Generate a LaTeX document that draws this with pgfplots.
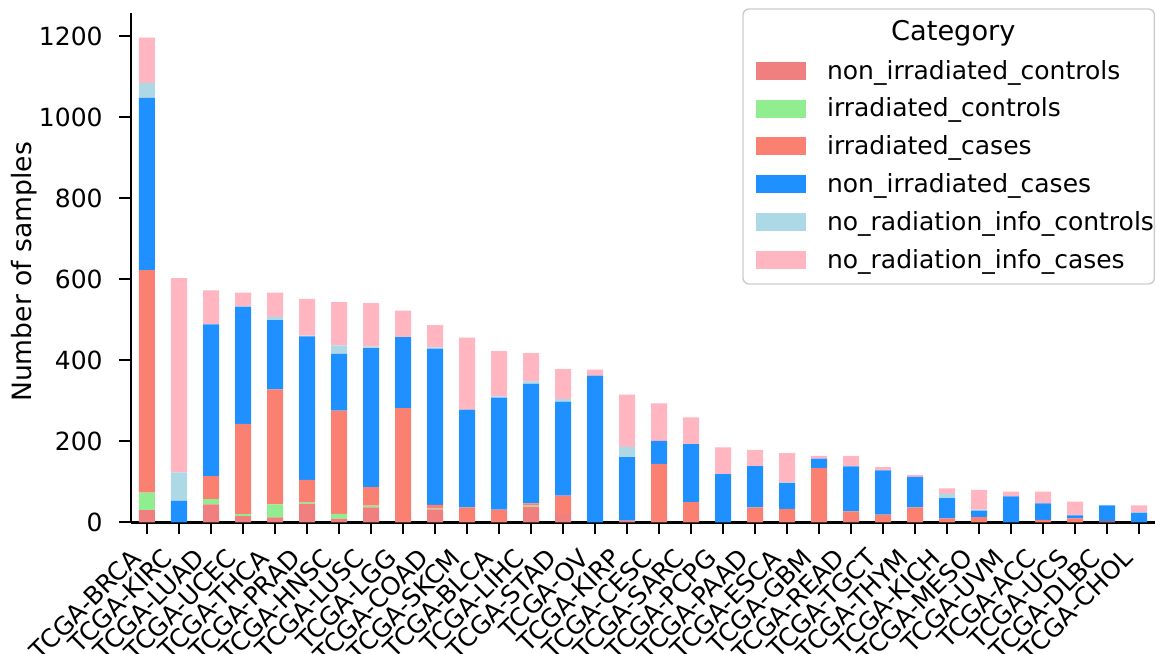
\documentclass[border=0pt]{standalone}
\usepackage{pgfplots}
\pgfplotsset{compat=1.18}
\usepackage{pgfplotstable}
\usepackage{fontspec}
\setmainfont{DejaVu Sans}
\usetikzlibrary{calc}

\definecolor{nic}{HTML}{F08080}
\definecolor{ic}{HTML}{90EE90}
\definecolor{irc}{HTML}{FA8072}
\definecolor{nirc}{HTML}{1E90FF}
\definecolor{nric}{HTML}{ADD8E6}
\definecolor{nrc}{HTML}{FFB6C1}

% samples per project, stacked bottom to top
\pgfplotstableread{
x  nic ic  irc nirc nric nrc
0  30  43  550 425  37   112
1  0   0   0   53   70   480
2  44  13  57  375  0    84
3  15  5   223 289  2    33
4  12  32  284 171  8    60
5  46  4   55  354  2    91
6  9   12  255 140  21   107
7  37  4   46  343  4    107
8  0   0   282 175  0    66
9  32  2   9   386  3    55
10 0   0   37  241  0    178
11 0   0   31  277  3    112
12 39  2   6   295  6    70
13 21  0   45  232  6    74
14 0   0   0   362  0    15
15 0   0   4   157  25   129
16 0   0   144 57   0    93
17 0   0   50  143  0    66
18 0   0   0   119  0    66
19 0   0   37  102  0    40
20 0   0   33  64   2    72
21 0   0   134 23   0    7
22 3   0   24  111  0    26
23 0   0   19  109  0    8
24 0   0   37  75   0    5
25 0   0   10  50   10   14
26 0   0   13  16   2    49
27 0   0   0   64   0    12
28 0   0   6   41   0    29
29 0   0   10  7    1    33
30 0   0   2   40   0    0
31 0   0   0   23   2    17
}\data

\pgfplotsset{
  barleg/.style={legend image code/.code={\fill[##1] (0pt,-4.5pt) rectangle (25pt,4.5pt);}},
}

\begin{document}
\begin{tikzpicture}
\begin{axis}[
  name=ax,
  scale only axis, width=512pt, height=254.5pt,
  ybar stacked, bar width=0.5,
  xmin=-0.5, xmax=31.5, ymin=0, ymax=1257,
  xtick={0,...,31},
  xticklabels={TCGA-BRCA,TCGA-KIRC,TCGA-LUAD,TCGA-UCEC,TCGA-THCA,TCGA-PRAD,TCGA-HNSC,TCGA-LUSC,TCGA-LGG,TCGA-COAD,TCGA-SKCM,TCGA-BLCA,TCGA-LIHC,TCGA-STAD,TCGA-OV,TCGA-KIRP,TCGA-CESC,TCGA-SARC,TCGA-PCPG,TCGA-PAAD,TCGA-ESCA,TCGA-GBM,TCGA-READ,TCGA-TGCT,TCGA-THYM,TCGA-KICH,TCGA-MESO,TCGA-UVM,TCGA-ACC,TCGA-UCS,TCGA-DLBC,TCGA-CHOL},
  ytick={0,200,...,1200},
  axis x line*=bottom, axis y line*=left,
  axis line style={line width=1.25pt, -},
  tick align=outside, major tick length=6pt,
  every tick/.style={black, line width=1pt},
  tick label style={font=\fontsize{12.5}{15}\selectfont},
  /pgf/number format/assume math mode=true,
  /pgf/number format/1000 sep={},
  xticklabel shift=6pt,
  xticklabel style={xshift=-4pt, rotate=45, anchor=north east, inner sep=0pt, xshift=-3.5pt, yshift=3.5pt},
  yticklabel style={inner sep=0pt, xshift=-8pt},
  ylabel={Number of samples},
  ylabel style={font=\fontsize{13.3}{16}\selectfont, at={(axis description cs:-0.0918,0.492)}, anchor=south, inner sep=0pt},
  clip=false,
  legend style={at={(axis description cs:0.6104,0.9083)}, anchor=north west, draw=none, fill=none, inner sep=0pt,
    row sep=8.5pt, font=\fontsize{12.5}{15}\selectfont,
    nodes={inner sep=0pt, text height=9.4pt, text depth=1pt},
    /tikz/every odd column/.append style={column sep=10.3pt}},
  legend cell align=left,
]
\addplot[fill=nic, draw=none, barleg] table[x=x, y=nic] {\data};
\addlegendentry{non\_irradiated\_controls}
\addplot[fill=ic, draw=none, barleg] table[x=x, y=ic] {\data};
\addlegendentry{irradiated\_controls}
\addplot[fill=irc, draw=none, barleg] table[x=x, y=irc] {\data};
\addlegendentry{irradiated\_cases}
\addplot[fill=nirc, draw=none, barleg] table[x=x, y=nirc] {\data};
\addlegendentry{non\_irradiated\_cases}
\addplot[fill=nric, draw=none, barleg] table[x=x, y=nric] {\data};
\addlegendentry{no\_radiation\_info\_controls}
\addplot[fill=nrc, draw=none, barleg] table[x=x, y=nrc] {\data};
\addlegendentry{no\_radiation\_info\_cases}
\end{axis}
% legend frame and title
\draw[draw=black!20, line width=0.7pt, rounded corners=3pt]
  ($(ax.north east)+(-206pt,2.15pt)$) rectangle ($(ax.north east)+(-0.3pt,-135.35pt)$);
\node[anchor=base, inner sep=0pt, font=\fontsize{13.6}{16}\selectfont] at ($(ax.north east)+(-100.85pt,-13.5pt)$) {Category};
\pgfresetboundingbox
\path ($(ax.south west)+(-65.5pt,-65.35pt)$) rectangle ($(ax.north east)+(0.5pt,6.65pt)$);
\end{tikzpicture}
\end{document}
